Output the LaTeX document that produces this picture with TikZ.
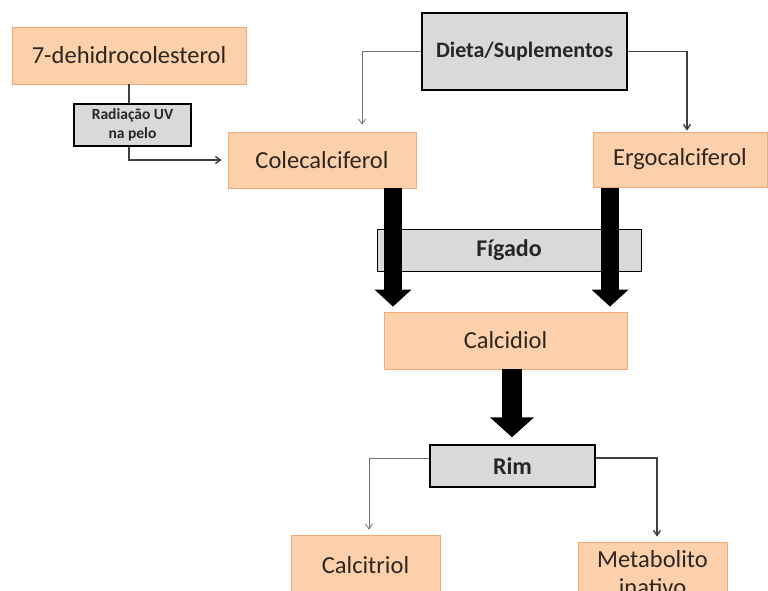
\documentclass[tikz,border=0pt]{standalone}
\usepackage{fontspec}
\setmainfont{Carlito}
\usetikzlibrary{arrows.meta}
\definecolor{peach}{HTML}{FBD0AA}
\definecolor{peachline}{HTML}{EFAA78}
\definecolor{boxgray}{HTML}{D9D9D9}
\definecolor{txt}{HTML}{2E2620}
\begin{document}
\begin{tikzpicture}[x=1pt,y=-1pt,
  obox/.style={draw=peachline, fill=peach, line width=0.8pt, text=txt, inner sep=0pt, font=\fontsize{24.5}{28}\selectfont},
  gbox/.style={draw=black, fill=boxgray, line width=1.4pt, text=black!85, inner sep=0pt, font=\bfseries\fontsize{22}{26}\selectfont},
  thin/.style={draw=black!55, line width=0.8pt, -{Straight Barb[length=5pt,width=7pt]}},
  dark/.style={draw=black!75, line width=1.4pt, -{Straight Barb[length=5pt,width=7pt]}},
  fat/.style={line width=18pt, -{Triangle[length=17pt,width=36pt]}}
]
\useasboundingbox (0,0) rectangle (768,590);
\clip (0,0) rectangle (768,590);

\node[obox, minimum width=234pt, minimum height=57pt] (dh) at (129,55.5) {7-dehidrocolesterol};
\node[gbox, font=\bfseries\fontsize{15.5}{19}\selectfont, align=center, minimum width=117pt, minimum height=42pt] (uv) at (132.5,125) {Radiação UV\\na pelo};
\node[obox, minimum width=188pt, minimum height=56pt] (cole) at (322,160) {Colecalciferol};
\node[gbox, minimum width=205pt, minimum height=77pt] (dieta) at (524.5,51.5) {Dieta/Suplementos};
\node[obox, minimum width=174pt, minimum height=55pt] (ergo) at (680,159.5) {Ergocalciferol};
\node[gbox, line width=1pt, font=\bfseries\fontsize{24}{28}\selectfont, minimum width=264pt, minimum height=42pt] (fig) at (509,250) {Fígado};
\node[obox, minimum width=243pt, minimum height=57pt] (calcidiol) at (505.5,340.5) {Calcidiol};
\node[gbox, font=\bfseries\fontsize{24}{28}\selectfont, minimum width=165pt, minimum height=42pt] (rim) at (512.5,466) {Rim};
\node[obox, minimum width=149pt, minimum height=60pt] (calcitriol) at (365.5,565) {Calcitriol};
\node[obox, align=center, minimum width=149pt, minimum height=62pt] (meta) at (652.5,573) {Metabolito\\inativo};

% thin connectors
\draw[line width=1.4pt, draw=black!75] (dh.south) -- (dh.south |- uv.north);
\coordinate (uvb) at (dh.south |- uv.south);
\draw[dark, shorten >=6pt] (uvb) |- (cole.west);
\coordinate (dl) at (362,51.5);
\draw[thin, shorten >=7pt] (dieta.west) -- (dl) -- (dl |- cole.north);
\coordinate (dr) at (687,51.5);
\draw[dark, shorten >=1pt] (dieta.east) -- (dr) -- (dr |- ergo.north);
\coordinate (rlc) at (369,458);
\draw[thin, shorten >=5pt] (rim.west |- rlc) -- (rlc) -- (rlc |- calcitriol.north);
\coordinate (rrc) at (657,458);
\draw[dark, shorten >=5pt] (rim.east |- rrc) -- (rrc) -- (rrc |- meta.north);

% fat arrows
\coordinate (c1) at (393,188);
\coordinate (c2) at (610,188);
\draw[fat, shorten >=5pt] (c1) -- (c1 |- calcidiol.north);
\draw[fat, shorten >=5pt] (c2) -- (c2 |- calcidiol.north);
\coordinate (c3) at (512,369);
\draw[line width=20pt, -{Triangle[length=20pt,width=43pt]}, shorten >=7pt] (c3) -- (c3 |- rim.north);
\end{tikzpicture}
\end{document}
